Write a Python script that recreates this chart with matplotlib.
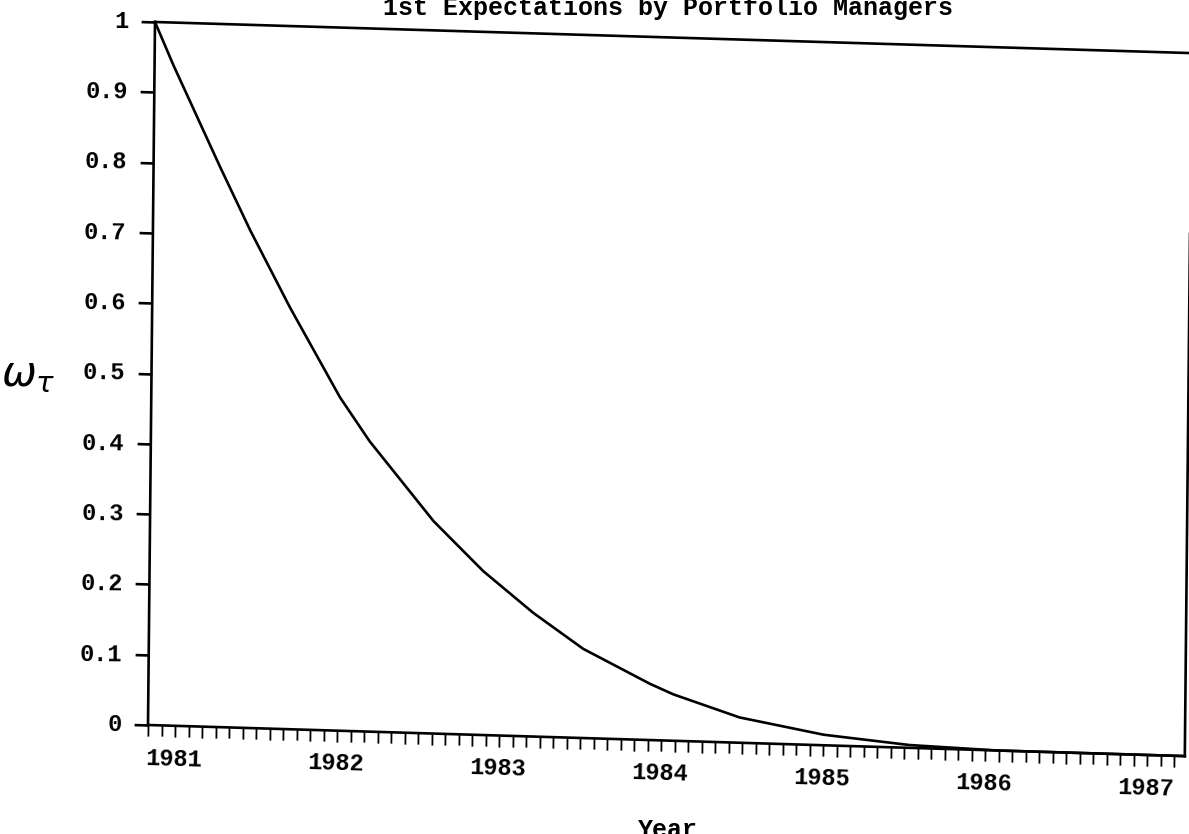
import matplotlib
matplotlib.use("Agg")
import matplotlib.pyplot as plt
from matplotlib.transforms import Affine2D
from mpl_toolkits.axisartist import floating_axes
from mpl_toolkits.axisartist.grid_finder import FixedLocator, DictFormatter
import numpy as np

# weights
years = [1981.0, 1981.115, 1981.41, 1981.60, 1981.85, 1982.165, 1982.35, 1982.75,
         1983.06, 1983.37, 1983.68, 1984.095, 1984.24, 1984.65, 1985.17, 1985.70,
         1986.24, 1987.40]
weights = [1.0, 0.940, 0.797, 0.708, 0.600, 0.474, 0.413, 0.302,
           0.233, 0.176, 0.127, 0.080, 0.066, 0.036, 0.015, 0.004,
           0.0, 0.0]
year_labels = ['1981', '1982', '1983', '1984', '1985', '1986', '1987']
y_ticks = [0, 0.1, 0.2, 0.3, 0.4, 0.5, 0.6, 0.7, 0.8, 0.9, 1]
y_ticklabels = ['0', '0.1', '0.2', '0.3', '0.4', '0.5', '0.6', '0.7', '0.8', '0.9', '1']

x_start, x_end = 1981, 1987.40
font = 'Liberation Mono'

# monthly ticks; year names sit a little right of each January tick, as in the scan
month_ticks = [x_start + i / 12 for i in range(int(round((x_end - x_start) * 12)) + 1)]
year_fmt = {}
for i, lab in enumerate(year_labels):
	year_fmt[x_start + (12 * i + 2) / 12] = lab
y_fmt = dict(zip(y_ticks, y_ticklabels))

# the scanned page is slightly sheared: map (year, weight) to pixels
px_per_year, px_per_unit = 162.0, 703.0
tr = Affine2D.from_values(px_per_year, -4.86, 7.0, px_per_unit,
	148 - px_per_year * x_start, 109 + 4.86 * x_start)

grid_helper = floating_axes.GridHelperCurveLinear(
	tr, extremes=(x_start, x_end, 0, 1),
	grid_locator1=FixedLocator(month_ticks),
	tick_formatter1=DictFormatter(year_fmt),
	grid_locator2=FixedLocator(y_ticks),
	tick_formatter2=DictFormatter(y_fmt))

fig = plt.figure(figsize=(11.89, 8.34), dpi=100)
ax = fig.add_axes([0, 0, 1, 1], axes_class=floating_axes.FloatingAxes, grid_helper=grid_helper)
ax.set_xlim(0, 1189)
ax.set_ylim(0, 834)

aux_ax = ax.get_aux_axes(tr)
aux_ax.plot(years, weights, color='black', linewidth=1.9)

for side in ['left', 'right', 'top', 'bottom']:
	ax.axis[side].line.set_linewidth(1.9)
ax.axis['top'].toggle(ticks=False, ticklabels=False)
ax.axis['right'].toggle(ticks=False, ticklabels=False)

ax.axis['bottom'].major_ticks.set_tick_out(True)
ax.axis['bottom'].major_ticks.set_ticksize(8)
ax.axis['bottom'].major_ticks.set_markeredgewidth(1.3)
ax.axis['bottom'].major_ticklabels.set_pad(9)
ax.axis['left'].major_ticks.set_tick_out(True)
ax.axis['left'].major_ticks.set_ticksize(10)
ax.axis['left'].major_ticks.set_markeredgewidth(1.9)
ax.axis['left'].major_ticklabels.set_pad(9)
for side in ['left', 'bottom']:
	lbl = ax.axis[side].major_ticklabels
	lbl.set_fontfamily(font)
	lbl.set_fontweight('bold')
	lbl.set_fontsize(17)

# title and axis labels
fig.text(0.562, 1 - 15 / 834, '1st Expectations by Portfolio Managers', ha='center', va='baseline',
	fontfamily=font, fontweight='bold', fontsize=18)
fig.text(0.562, 1 - 837 / 834, 'Year', ha='center', va='baseline',
	fontfamily=font, fontweight='bold', fontsize=18)
fig.text(28 / 1189, 1 - 374 / 834, r'$\omega_\tau$', ha='center', va='center', fontsize=30)

fig.savefig('out.png', dpi=100)
